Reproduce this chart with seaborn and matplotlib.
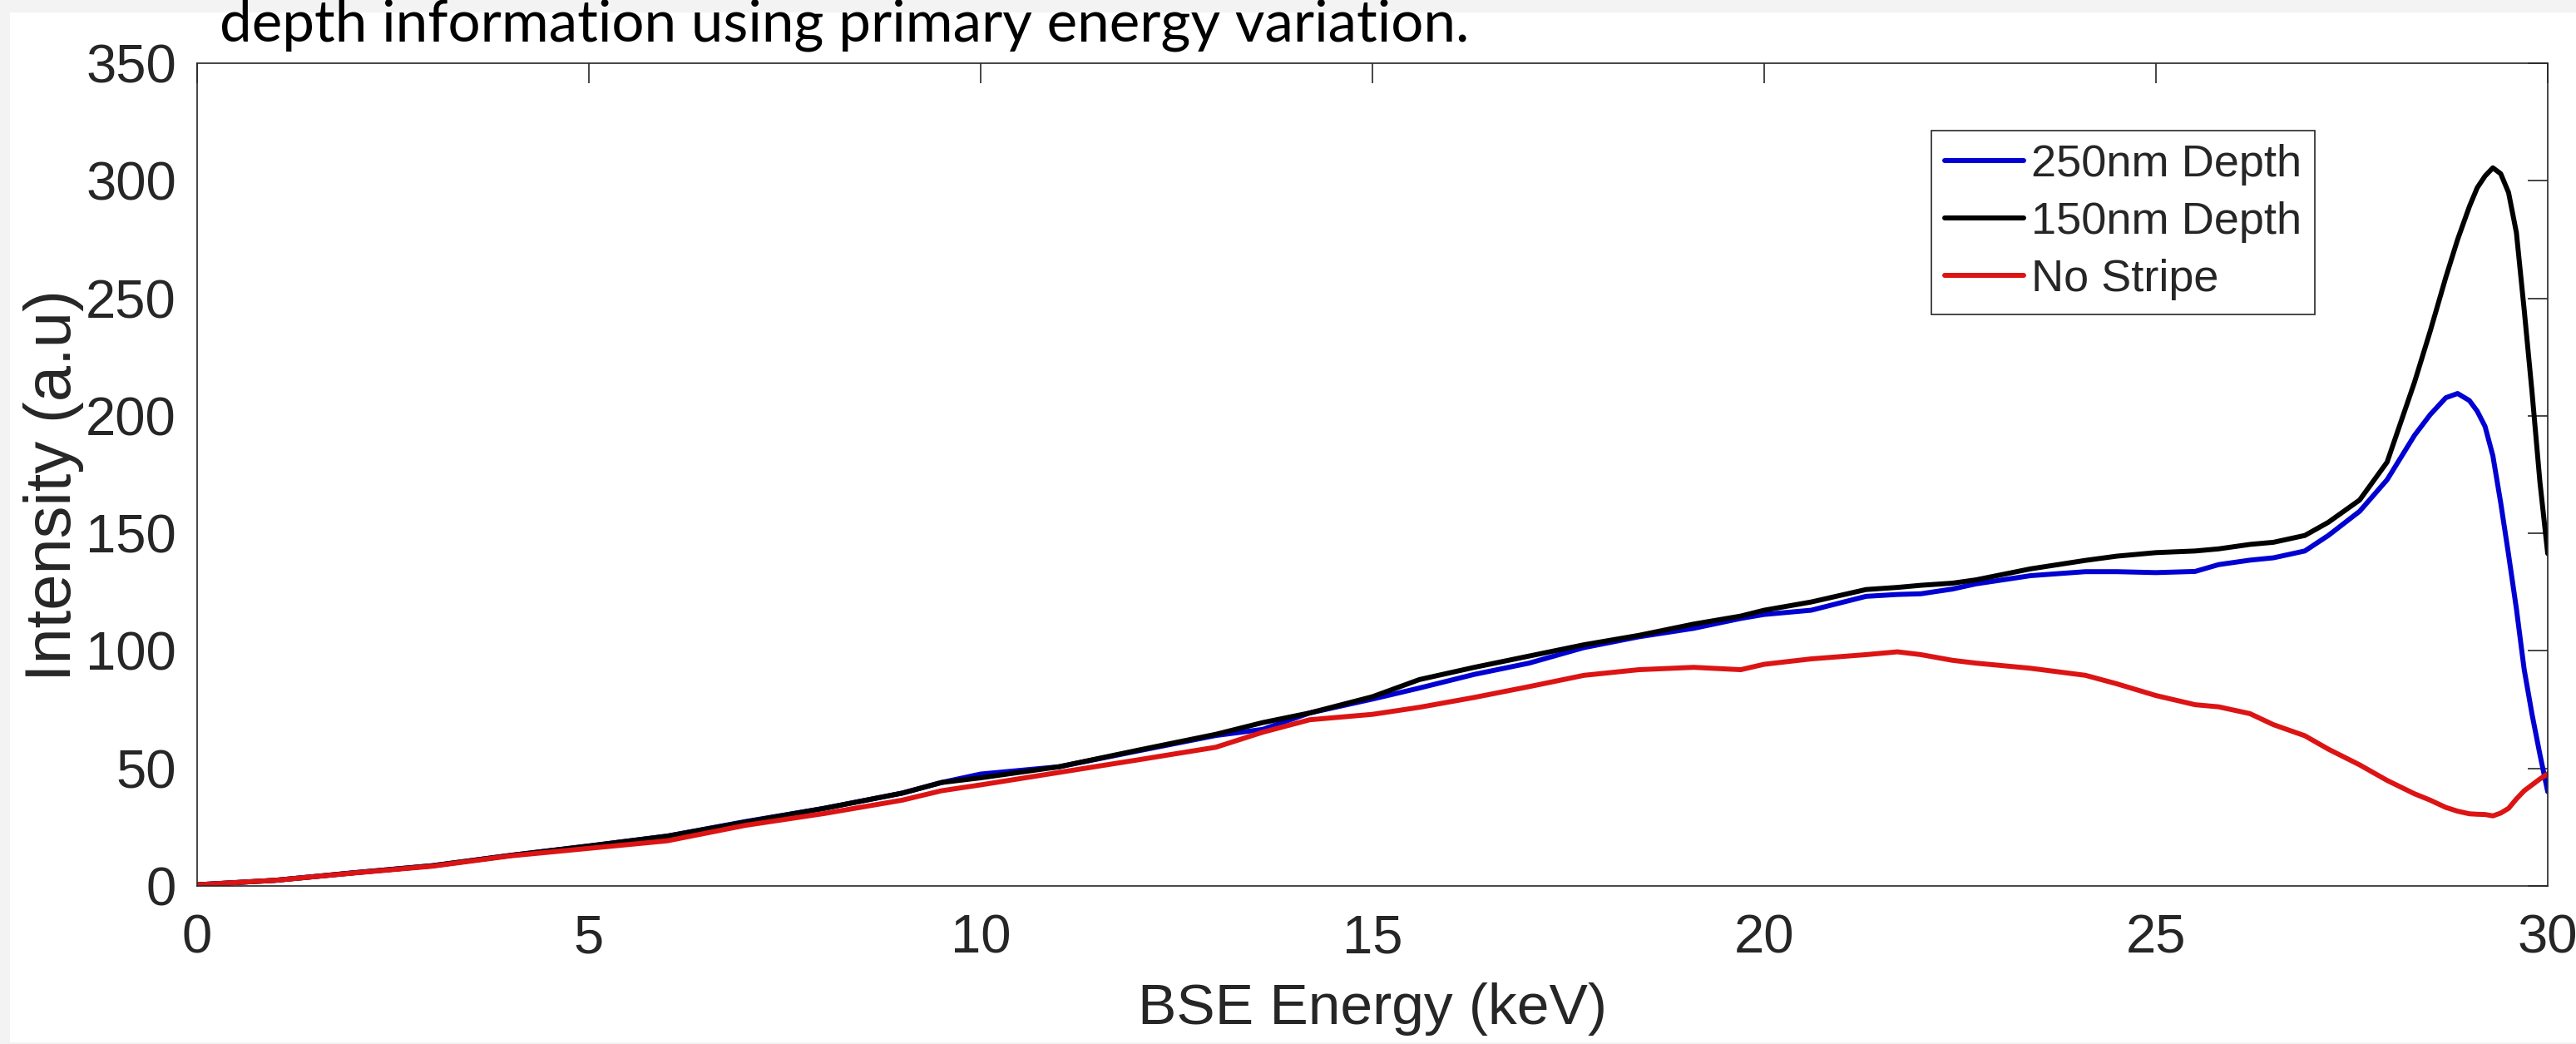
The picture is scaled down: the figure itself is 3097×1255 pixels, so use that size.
import numpy as np
import pandas as pd
import matplotlib
matplotlib.use("Agg")
import matplotlib.pyplot as plt
import seaborn as sns
from matplotlib.patches import Rectangle

# ---------------- data ----------------
energy_kev = [0.0, 1.0, 2.0, 3.0, 4.0, 5.0, 6.0, 7.0, 8.0, 9.0, 9.5, 10.0,
              11.0, 12.0, 13.0, 13.6, 14.2, 15.0, 15.6, 16.3, 17.0, 17.7,
              18.4, 19.1, 19.7, 20.0, 20.6, 21.3, 21.7, 22.0, 22.4, 22.7,
              23.4, 24.1, 24.5, 25.0, 25.5, 25.8, 26.2, 26.5, 26.9, 27.2,
              27.6, 27.95, 28.3, 28.5, 28.7, 28.85, 29.0, 29.1, 29.2, 29.3,
              29.4, 29.5, 29.6, 29.7, 29.8, 29.9, 30.0]

depth_250nm = [0.5, 2.4, 5.6, 8.6, 13.0, 17.0, 21.2, 27.4, 33.0, 39.5, 44.0, 47.6,
               50.7, 57.4, 64.0, 66.6, 73.6, 79.5, 84.2, 90.0, 94.8, 101.4,
               106.0, 109.6, 113.8, 115.5, 117.3, 123.2, 124.0, 124.3, 126.3, 128.5,
               132.0, 133.7, 133.7, 133.3, 133.8, 136.7, 138.6, 139.6, 142.5, 149.1,
               159.4, 172.8, 191.7, 200.5, 207.7, 209.5, 206.5, 202.0, 195.5, 183.0,
               163.0, 141.0, 118.0, 92.0, 73.0, 56.0, 40.1]

depth_150nm = [0.5, 2.4, 5.6, 8.6, 13.0, 17.0, 21.2, 27.2, 33.0, 39.5, 44.0, 46.0,
               50.7, 57.7, 64.5, 69.5, 73.6, 80.5, 87.8, 93.0, 97.8, 102.6,
               106.6, 111.4, 114.8, 117.3, 120.8, 126.1, 127.0, 127.9, 128.8, 130.2,
               134.9, 138.5, 140.3, 141.8, 142.5, 143.4, 145.3, 146.2, 149.1, 154.7,
               164.2, 180.3, 214.3, 236.0, 259.0, 275.0, 289.0, 297.0, 302.0, 305.5,
               303.0, 295.0, 278.0, 245.0, 210.0, 172.0, 141.4]

no_stripe = [0.5, 2.4, 5.5, 8.4, 12.8, 16.0, 19.2, 25.8, 30.8, 36.5, 40.5, 43.0,
             48.3, 53.6, 59.0, 65.4, 70.7, 73.0, 76.0, 80.2, 84.8, 89.6,
             92.0, 93.0, 92.0, 94.3, 96.6, 98.4, 99.6, 98.4, 96.0, 94.8,
             92.6, 89.6, 86.0, 81.0, 77.1, 76.2, 73.3, 68.6, 63.9, 58.2,
             51.5, 44.9, 39.2, 36.5, 33.4, 31.8, 30.7, 30.5, 30.4, 29.8,
             31.0, 33.0, 37.0, 40.5, 43.0, 45.5, 47.7]

series_names = ["250nm Depth", "150nm Depth", "No Stripe"]
series_colors = ["#0000d2", "#000000", "#dc1414"]
x_ticks = [0, 5, 10, 15, 20, 25, 30]
y_ticks = [0, 50, 100, 150, 200, 250, 300, 350]
title_text = "depth information using primary energy variation."
x_label = "BSE Energy (keV)"
y_label = "Intensity (a.u)"

# ---------------- style ----------------
sns.set_style("white")
plt.rcParams["font.family"] = ["Liberation Sans", "DejaVu Sans"]

frames = []
for name, vals in zip(series_names, [depth_250nm, depth_150nm, no_stripe]):
    frames.append(pd.DataFrame({"Energy": energy_kev, "Intensity": vals, "Series": name}))
df = pd.concat(frames, ignore_index=True)

W, H = 3097, 1255
fig = plt.figure(figsize=(W / 100, H / 100), dpi=100)
fig.patch.set_facecolor("#f3f3f3")
fig.add_artist(Rectangle((12 / W, 2 / H), 1.0, 1 - 17 / H, transform=fig.transFigure,
                         facecolor="white", edgecolor="none", zorder=-10))

ax = fig.add_axes([237 / W, 1 - 1065 / H, (3063 - 237) / W, 989 / H])
ax.set_facecolor("white")

sns.lineplot(data=df, x="Energy", y="Intensity", hue="Series", hue_order=series_names,
             palette=series_colors, estimator=None, sort=False, linewidth=4.3, ax=ax)

ax.set_xlim(0, 30)
ax.set_ylim(0, 350)
ax.set_xticks(x_ticks)
ax.set_yticks(y_ticks)
ax.tick_params(direction="in", length=17, width=1.2, colors="#262626", labelsize=47,
               top=True, right=True, labeltop=False, labelright=False)
ax.tick_params(axis="x", pad=24)
ax.tick_params(axis="y", pad=18)
for s in ax.spines.values():
    s.set_color("#262626")
    s.set_linewidth(1.2)

ax.set_xlabel(x_label, fontsize=50, color="#262626")
ax.xaxis.set_label_coords(0.5, -0.150)
ax.xaxis.label.set_va("center")
ax.set_ylabel(y_label, fontsize=56, color="#262626")
ax.yaxis.set_label_coords(-0.0610, 0.487)
ax.yaxis.label.set_va("center")

handles, labels = ax.get_legend_handles_labels()
leg = ax.legend(handles, labels, loc="upper right", bbox_to_anchor=(0.901, 0.918),
                fontsize=39, frameon=True, fancybox=False, framealpha=1,
                edgecolor="#262626", borderpad=0.3, handlelength=1.74,
                handletextpad=0.17, labelspacing=0.35, borderaxespad=0)
leg.get_frame().set_linewidth(1.2)
for line in leg.get_lines():
    line.set_linewidth(4.3)

t = fig.text(264 / W, 1 - 50 / H, title_text, fontsize=44,
             family=["Lato", "DejaVu Sans"], va="baseline", ha="left", color="black")
fig.canvas.draw()
bb = t.get_window_extent()
t.set_fontsize(44 * 1504 / bb.width)

fig.savefig("out.png", dpi=100)
